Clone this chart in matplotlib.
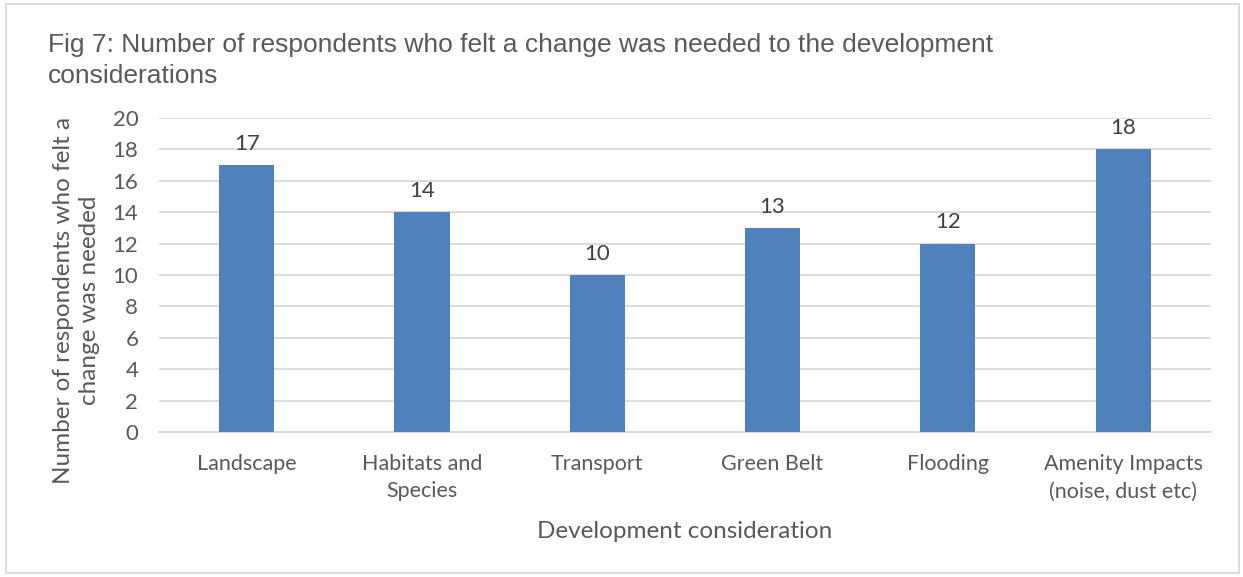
import matplotlib.pyplot as plt
from matplotlib.patches import Rectangle

categories = ["Landscape", "Habitats and\nSpecies", "Transport", "Green Belt",
              "Flooding", "Amenity Impacts\n(noise, dust etc)"]
counts = [17, 14, 10, 13, 12, 18]
yticks = list(range(0, 21, 2))

BAR = "#4F81BD"
GRID = "#D9D9D9"
TEXT = "#595959"
LABEL_FONT = ["Lato", "DejaVu Sans"]
TITLE_FONT = ["Liberation Sans", "DejaVu Sans"]

fig = plt.figure(figsize=(12.43, 5.77), dpi=100)
ax = fig.add_axes([0.128, 0.2513, 0.846, 0.5442])

x = range(len(categories))
bars = ax.bar(x, counts, width=0.314, color=BAR, zorder=3)

for bar, value in zip(bars, counts):
    ax.annotate(str(value), (bar.get_x() + bar.get_width() / 2, value),
                xytext=(0, 8), textcoords="offset points",
                ha="center", va="bottom", fontsize=16,
                color="#404040", family=LABEL_FONT)

ax.set_xlim(-0.5, len(categories) - 0.5)
ax.set_ylim(0, 20)
ax.set_yticks(yticks)
ax.set_xticks(list(x))
ax.set_xticklabels(categories, fontsize=15.5, color=TEXT, family=LABEL_FONT,
                   linespacing=1.45)
for lab in ax.get_yticklabels():
    lab.set_fontsize(16)
    lab.set_color(TEXT)
    lab.set_family(LABEL_FONT)

ax.yaxis.grid(True, color=GRID, linewidth=1.3, zorder=0)
ax.tick_params(axis="both", length=0)
ax.tick_params(axis="x", pad=16)
ax.tick_params(axis="y", pad=15)
for side in ["top", "right", "left"]:
    ax.spines[side].set_visible(False)
ax.spines["bottom"].set_color(GRID)
ax.spines["bottom"].set_linewidth(1.3)

ax.set_xlabel("Development consideration", fontsize=17.5, color=TEXT,
              family=LABEL_FONT, labelpad=14)
ax.set_ylabel("Number of respondents who felt a\nchange was needed", fontsize=17.5,
              color=TEXT, family=LABEL_FONT, linespacing=1.3)
ax.yaxis.set_label_coords(-0.056, 0.42)

fig.text(0.0386, 0.943, "Fig 7: Number of respondents who felt a change was needed to the development\nconsiderations",
         fontsize=19, color=TEXT, family=TITLE_FONT, ha="left", va="top",
         linespacing=1.4)

# thin frame round the whole chart
fig.patches.append(Rectangle((0.005, 0.007), 0.992, 0.986, transform=fig.transFigure,
                             fill=False, edgecolor="#D9D9D9", linewidth=1.3))

fig.savefig("out.png", dpi=100)
